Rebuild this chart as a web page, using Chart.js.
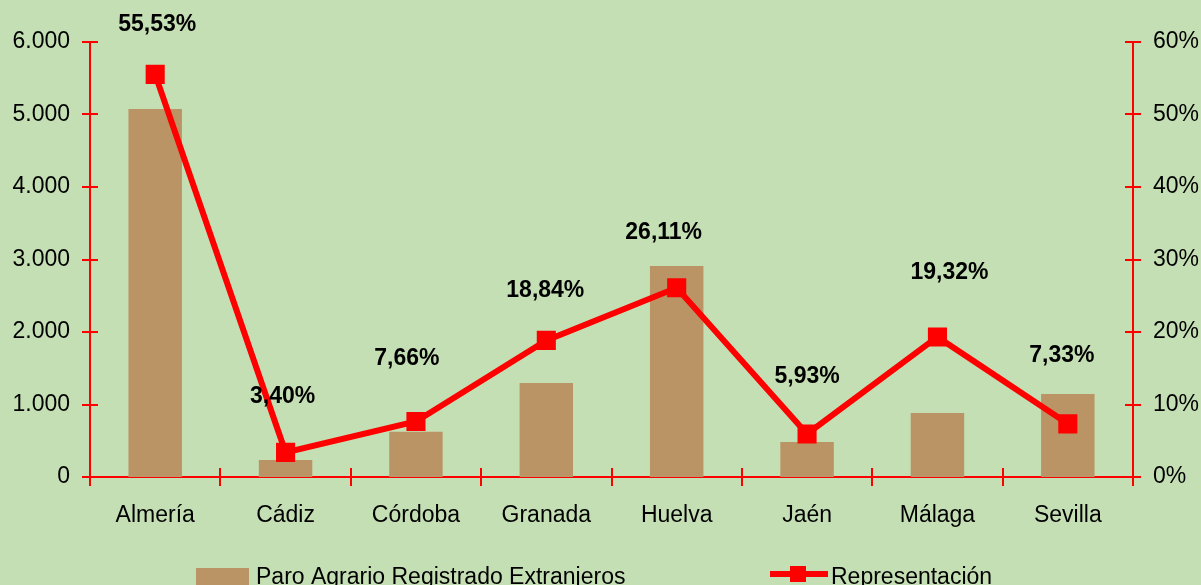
<!DOCTYPE html>
<html>
<head>
<meta charset="utf-8">
<script src="https://cdn.jsdelivr.net/npm/chart.js@4"></script>
<style>
  body { margin: 0; background: #C5DFB4; }
  #wrap { width: 1201px; height: 585px; position: relative; }
</style>
</head>
<body>
<div id="wrap"><canvas id="myChart"></canvas></div>
<script>
// Data
const provincias = ['Almería', 'Cádiz', 'Córdoba', 'Granada', 'Huelva', 'Jaén', 'Málaga', 'Sevilla'];
const paroExtranjeros = [5075, 234, 625, 1297, 2910, 483, 883, 1145];
const representacion = [55.53, 3.40, 7.66, 18.84, 26.11, 5.93, 19.32, 7.33];
const leftTicks = [0, 1000, 2000, 3000, 4000, 5000, 6000];
const rightTicks = [0, 10, 20, 30, 40, 50, 60];

// small nudges for the percentage labels (pixels, relative to the point)
const labelDx = [2, -3, -9, -1, -13, 0, 12, -6];
const labelDy = [50, 56, 63, 50, 55, 57, 64, 68];

const RED = '#FF0000';
const BROWN = '#BA9464';
const FONT = 'Arial, "Liberation Sans", sans-serif';

function fmtMiles(v) {
  return String(v).replace(/\B(?=(\d{3})+(?!\d))/g, '.');
}

// ticks crossing the axes, point labels and the legend
const decoPlugin = {
  id: 'deco',
  beforeDatasetsDraw(chart) {
    const ctx = chart.ctx;
    const x = chart.scales.x, y = chart.scales.y, y1 = chart.scales.y1;
    ctx.save();
    ctx.strokeStyle = RED;
    ctx.lineWidth = 2;
    ctx.beginPath();
    y.ticks.forEach(t => {
      const py = Math.round(y.getPixelForValue(t.value));
      ctx.moveTo(y.right - 8, py); ctx.lineTo(y.right + 8, py);
    });
    y1.ticks.forEach(t => {
      const py = Math.round(y1.getPixelForValue(t.value));
      ctx.moveTo(y1.left - 8, py); ctx.lineTo(y1.left + 8, py);
    });
    const step = x.getPixelForValue(1) - x.getPixelForValue(0);
    for (let i = 0; i <= provincias.length; i++) {
      const px = Math.round(x.getPixelForValue(0) - step / 2 + i * step);
      ctx.moveTo(px, x.top - 9); ctx.lineTo(px, x.top + 9);
    }
    ctx.stroke();
    ctx.restore();
  },
  afterDatasetsDraw(chart) {
    const ctx = chart.ctx;
    const meta = chart.getDatasetMeta(1);
    ctx.save();
    ctx.fillStyle = '#000';
    ctx.font = 'bold 23px ' + FONT;
    ctx.textAlign = 'center';
    ctx.textBaseline = 'middle';
    meta.data.forEach((pt, i) => {
      const txt = representacion[i].toFixed(2).replace('.', ',') + '%';
      ctx.fillText(txt, pt.x + labelDx[i], pt.y - labelDy[i]);
    });

    // legend
    ctx.fillStyle = BROWN;
    ctx.fillRect(196, 568, 53, 17);
    ctx.strokeStyle = RED;
    ctx.lineWidth = 6;
    ctx.beginPath();
    ctx.moveTo(770, 574); ctx.lineTo(828, 574);
    ctx.stroke();
    ctx.fillStyle = RED;
    ctx.fillRect(790, 566, 16, 16);
    ctx.fillStyle = '#000';
    ctx.font = '23px ' + FONT;
    ctx.textAlign = 'left';
    ctx.textBaseline = 'alphabetic';
    ctx.fillText(chart.data.datasets[0].label, 256, 584);
    ctx.fillText(chart.data.datasets[1].label, 831, 584);
    ctx.restore();
  }
};

const ctx = document.getElementById('myChart').getContext('2d');
const myChart = new Chart(ctx, {
  data: {
    labels: provincias,
    datasets: [
      {
        type: 'bar',
        label: 'Paro Agrario Registrado Extranjeros',
        data: paroExtranjeros,
        backgroundColor: BROWN,
        borderWidth: 0,
        barPercentage: 0.41,
        categoryPercentage: 1,
        yAxisID: 'y',
        order: 2
      },
      {
        type: 'line',
        label: 'Representación',
        data: representacion,
        borderColor: RED,
        backgroundColor: RED,
        borderWidth: 6,
        pointStyle: 'rect',
        pointRadius: 13.5,
        pointHoverRadius: 13.5,
        pointBorderWidth: 0,
        tension: 0,
        yAxisID: 'y1',
        order: 1
      }
    ]
  },
  options: {
    responsive: true,
    maintainAspectRatio: false,
    animation: false,
    layout: { padding: { top: 42, left: 0, right: 0, bottom: 0 } },
    plugins: {
      legend: { display: false },
      tooltip: { enabled: false }
    },
    scales: {
      x: {
        offset: true,
        grid: { display: false, drawTicks: false },
        border: { display: true, color: RED, width: 2 },
        ticks: { color: '#000', font: { family: FONT, size: 23 }, padding: 25, maxRotation: 0 },
        afterFit(s) { s.height = 108; }
      },
      y: {
        position: 'left',
        min: 0, max: 6000,
        grid: { display: false, drawTicks: false },
        border: { display: true, color: RED, width: 2 },
        afterBuildTicks(s) { s.ticks = leftTicks.map(v => ({ value: v })); },
        ticks: {
          color: '#000', font: { family: FONT, size: 23 }, padding: 20,
          callback: v => fmtMiles(v)
        },
        afterFit(s) { s.width = 90; }
      },
      y1: {
        position: 'right',
        min: 0, max: 60,
        grid: { display: false, drawTicks: false },
        border: { display: true, color: RED, width: 2 },
        afterBuildTicks(s) { s.ticks = rightTicks.map(v => ({ value: v })); },
        ticks: {
          color: '#000', font: { family: FONT, size: 23 }, padding: 20,
          callback: v => v + '%'
        },
        afterFit(s) { s.width = 68; }
      }
    }
  },
  plugins: [decoPlugin]
});
</script>
</body>
</html>
